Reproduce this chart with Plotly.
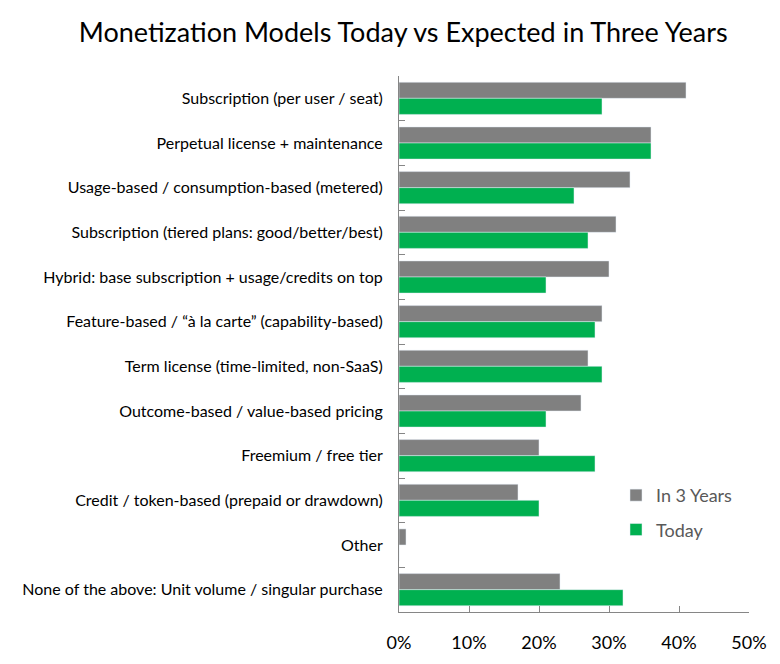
import plotly.graph_objects as go

categories = [
    "Subscription (per user / seat)",
    "Perpetual license + maintenance",
    "Usage-based / consumption-based (metered)",
    "Subscription (tiered plans: good/better/best)",
    "Hybrid: base subscription + usage/credits on top",
    "Feature-based / \u201c\u00e0 la carte\u201d (capability-based)",
    "Term license (time-limited, non-SaaS)",
    "Outcome-based / value-based pricing",
    "Freemium / free tier",
    "Credit / token-based (prepaid or drawdown)",
    "Other",
    "None of the above: Unit volume / singular purchase",
]
in_3_years = [41, 36, 33, 31, 30, 29, 27, 26, 20, 17, 1, 23]
today = [29, 36, 25, 27, 21, 28, 29, 21, 28, 20, 0, 32]

font = "Lato, Open Sans, sans-serif"

fig = go.Figure()
fig.add_trace(go.Bar(y=categories, x=in_3_years, name="In 3 Years", orientation="h",
                     marker_color="#808080", legendgroup="a"))
fig.add_trace(go.Bar(y=categories, x=today, name="Today", orientation="h",
                     marker_color="#00B050", legendgroup="b"))

# page body has an 8px margin, so the figure is a bit smaller than the window
fig.update_layout(
    width=772, height=656,
    margin=dict(l=391, r=31, t=68, b=52),
    paper_bgcolor="white", plot_bgcolor="white",
    barmode="group", bargap=0.28, bargroupgap=0,
    font=dict(family=font, color="#000000"),
    title=dict(text="Monetization Models Today vs Expected in Three Years",
               x=0.512, xanchor="center", y=0.962, yanchor="middle",
               font=dict(size=27, family=font, color="#000000")),
    legend=dict(x=0.62, y=0.252, xanchor="left", yanchor="top",
                traceorder="grouped", tracegroupgap=8,
                font=dict(size=18, color="#595959"), bgcolor="rgba(0,0,0,0)"),
    showlegend=True,
)
fig.update_xaxes(range=[0, 50], dtick=10, ticksuffix="%", showgrid=False, zeroline=False,
                 showline=True, linecolor="#868686", linewidth=1,
                 ticks="inside", ticklen=6, tickcolor="#868686",
                 ticklabelstandoff=14, tickfont=dict(size=18, color="#000000"))
fig.update_yaxes(autorange="reversed", showgrid=False, showline=True,
                 linecolor="#868686", linewidth=1, tickson="boundaries",
                 ticks="inside", ticklen=6, tickcolor="#868686",
                 ticklabelstandoff=12, tickfont=dict(size=16, color="#000000"))

fig.write_html("out.html")
